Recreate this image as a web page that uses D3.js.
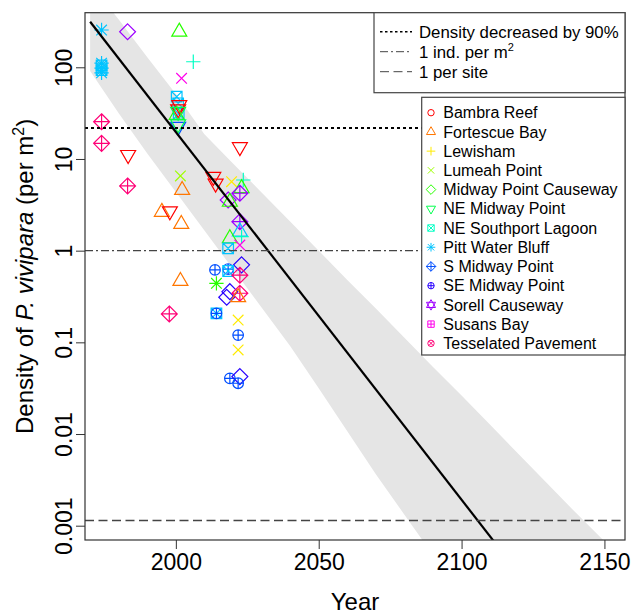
<!DOCTYPE html>
<html>
<head>
<meta charset="utf-8">
<script src="https://cdn.jsdelivr.net/npm/d3@7"></script>
<style>
body { margin: 0; background: #fff; }
svg { font-family: "Liberation Sans", Arial, sans-serif; }
</style>
</head>
<body>
<svg id="chart" width="634" height="614"></svg>
<script>
// legend sites, in order
var sites = ["Bambra Reef", "Fortescue Bay", "Lewisham", "Lumeah Point", "Midway Point Causeway",
    "NE Midway Point", "NE Southport Lagoon", "Pitt Water Bluff", "S Midway Point",
    "SE Midway Point", "Sorell Causeway", "Susans Bay", "Tesselated Pavement"]
var siteShapes = ["circle", "triangle", "plus", "cross", "diamond", "triangleDown", "squareX",
    "asterisk", "diamondPlus", "circlePlus", "star", "squarePlus", "circleX"]

// observations as plotted: year, density (per m2), marker
var obsYear = [1974, 1974, 1974, 1974, 1974, 1974, 1974, 1974,
    1983.1, 1983.3, 1983.1, 1995.1, 1997.9, 1997.7,
    2001.2, 2006.1, 2002.0, 2000.3, 2000.8, 2001.0, 2001.2, 2000.8, 2000.3, 2000.8, 2000.8, 2000.8,
    2001.6, 2002.2, 2001.9, 2001.6,
    2013.1, 2013.9, 2022.4,
    2019.5, 2023.6, 2023.0, 2022.4, 2018.3, 2018.9, 2022.4, 2022.4, 2018.9, 2023.0, 2022.4, 2018.3,
    2013.7, 2018.3, 2023.0, 2018.3, 2022.4, 2014.2, 2018.9, 2017.8, 2022.4, 2021.8,
    2014.2, 2014.2, 2021.8, 2021.8, 2021.8, 2018.9, 2022.4, 2021.8]
var obsDensity = [255, 111, 98, 87, 105, 93, 25.5, 14.8,
    244, 11.1, 5.08, 2.64, 2.7, 0.204,
    244, 115, 75.9, 47.8, 40.5, 31, 38.8, 35, 30.2, 22.5, 24, 32.8,
    6.53, 4.57, 1.95, 0.465,
    6.4, 5.4, 13.5,
    5.65, 5.9, 4.79, 4.23, 3.57, 3.4, 2.07, 1.61, 1.36, 1.42, 1.15, 1.06,
    0.617, 0.63, 0.70, 0.60, 0.54, 0.44, 0.357, 0.31, 0.343, 0.31,
    0.207, 0.207, 0.175, 0.12, 0.0826, 0.0405, 0.0423, 0.0358]
var obsMarker = ["astCyan", "astCyan", "astCyan", "astCyan", "sqCyan", "sqCyan", "dpPink", "dpPink",
    "diaPurple", "downRed", "dpPink", "triOrange", "downRed", "dpPink",
    "triGreen", "plusTeal", "xMagenta", "sqCyan", "sqCyan", "sqCyan", "downRed", "downRed", "triGreen", "downBlue", "downGreen", "downGreen",
    "xLime", "triOrange", "triOrange", "triOrange",
    "downRed", "downRed", "downRed",
    "xYellow", "plusTeal", "triGreen", "dpPurple", "diaPurple", "triGreen", "dpPurple", "triCyan", "triGreen", "plusTeal", "xMagenta", "sqCyan",
    "cpBlue", "cpBlue", "diaBlue", "sqCyan", "dpPink", "astGreen", "diaBlue", "diaBlue", "dpPink", "triOrange",
    "sqCyan", "cpBlue", "xYellow", "cpBlue", "xYellow", "cpBlue", "diaBlue", "cpBlue"]

// fitted trend and its band, log10 density
var trendYear = [1970, 2157]
var trendLog10 = [2.497, -5.003]
var bandYear = [1970, 1980, 1990, 2000, 2010, 2020, 2030, 2040, 2050, 2060, 2070, 2080, 2090, 2100, 2110, 2120, 2130, 2140, 2150, 2157]
var bandLower = [1.96, 1.50, 1.06, 0.64, 0.22, -0.20, -0.62, -1.04, -1.50, -1.97, -2.44, -2.88, -3.32, -3.76, -4.2, -4.64, -5.08, -5.52, -5.96, -6.27]
var bandUpper = [2.92, 2.52, 2.11, 1.71, 1.27, 0.95, 0.635, 0.318, 0.0, -0.32, -0.63, -0.95, -1.27, -1.58, -1.90, -2.22, -2.54, -2.86, -3.17, -3.39]

// reference lines
var refLabels = ["Density decreased by 90%", "1 ind. per m", "1 per site"]
var refValues = [21.8, 1, 0.00114]

var xTicks = [2000, 2050, 2100, 2150]
var yTicks = [0.001, 0.01, 0.1, 1, 10, 100]
var yTickLabels = ["0.001", "0.01", "0.1", "1", "10", "100"]

var colours = d3.range(13).map(function(i){ return d3.hsl(i / 13 * 360, 1, 0.5).formatHex() })

var markerStyle = {
    astCyan: ["asterisk", colours[7]], sqCyan: ["squareX", colours[7]], dpPink: ["diamondPlus", colours[12]],
    diaPurple: ["diamond", colours[10]], downRed: ["triangleDown", colours[0]], triOrange: ["triangle", colours[1]],
    triGreen: ["triangle", colours[4]], plusTeal: ["plus", colours[6]], xMagenta: ["cross", colours[11]],
    downBlue: ["triangleDown", colours[8]], downGreen: ["triangleDown", colours[5]], xLime: ["cross", colours[3]],
    xYellow: ["cross", colours[2]], dpPurple: ["diamondPlus", colours[10]], triCyan: ["triangle", colours[7]],
    cpBlue: ["circlePlus", colours[8]], diaBlue: ["diamond", colours[9]], astGreen: ["asterisk", colours[4]]
}

function shapePath(shape, xc)
{
    var p = d3.path()
    function circ(r){ p.moveTo(r, 0); p.arc(0, 0, r, 0, 2 * Math.PI) }
    function seg(x1, y1, x2, y2){ p.moveTo(x1, y1); p.lineTo(x2, y2) }
    function poly(pts){ p.moveTo(pts[0][0], pts[0][1]); for(var i=1; i<pts.length; i++) p.lineTo(pts[i][0], pts[i][1]); p.closePath() }
    var t = xc * 1.63, d = xc * 1.5, pl = xc * 1.35
    var up = [[0, -t], [t * 0.866, t / 2], [-t * 0.866, t / 2]]
    var down = [[0, t], [t * 0.866, -t / 2], [-t * 0.866, -t / 2]]
    if(shape == "circle") circ(xc)
    if(shape == "triangle") poly(up)
    if(shape == "triangleDown") poly(down)
    if(shape == "star"){ poly(up); poly(down) }
    if(shape == "plus"){ seg(-pl, 0, pl, 0); seg(0, -pl, 0, pl) }
    if(shape == "cross"){ seg(-xc, -xc, xc, xc); seg(-xc, xc, xc, -xc) }
    if(shape == "asterisk"){ seg(-pl, 0, pl, 0); seg(0, -pl, 0, pl); seg(-xc, -xc, xc, xc); seg(-xc, xc, xc, -xc) }
    if(shape == "diamond" || shape == "diamondPlus") poly([[0, -d], [d, 0], [0, d], [-d, 0]])
    if(shape == "diamondPlus"){ seg(-d, 0, d, 0); seg(0, -d, 0, d) }
    if(shape == "squareX" || shape == "squarePlus") poly([[-xc, -xc], [xc, -xc], [xc, xc], [-xc, xc]])
    if(shape == "squareX"){ seg(-xc, -xc, xc, xc); seg(-xc, xc, xc, -xc) }
    if(shape == "squarePlus"){ seg(-xc, 0, xc, 0); seg(0, -xc, 0, xc) }
    if(shape == "circlePlus"){ circ(xc); seg(-xc, 0, xc, 0); seg(0, -xc, 0, xc) }
    if(shape == "circleX"){ circ(xc); var k = xc * 0.707; seg(-k, -k, k, k); seg(-k, k, k, -k) }
    return p.toString()
}

var svg = d3.select("#chart")
var plotLeft = 85, plotRight = 625, plotTop = 12.7, plotBottom = 540

var x = d3.scaleLinear().domain([1968.2, 2157.2]).range([plotLeft, plotRight])
var y = d3.scaleLog().domain([Math.pow(10, -3.156), Math.pow(10, 2.5955)]).range([plotBottom, plotTop])

svg.append("clipPath").attr("id", "plotclip")
    .append("rect").attr("x", plotLeft).attr("y", plotTop).attr("width", plotRight - plotLeft).attr("height", plotBottom - plotTop)

var plot = svg.append("g").attr("clip-path", "url(#plotclip)")

// confidence band
var bandRows = bandYear.map(function(yr, i){ return {yr: yr, lo: bandLower[i], hi: bandUpper[i]} })
plot.append("path")
    .datum(bandRows)
    .attr("fill", "#e5e5e5")
    .attr("d", d3.area()
        .x(function(d){ return x(d.yr) })
        .y0(function(d){ return y(Math.pow(10, d.lo)) })
        .y1(function(d){ return y(Math.pow(10, d.hi)) }))

// observations
var obs = obsYear.map(function(yr, i){ return {yr: yr, dens: obsDensity[i], m: markerStyle[obsMarker[i]]} })
plot.selectAll("path.obs")
    .data(obs)
    .enter()
        .append("path")
        .attr("class", "obs")
        .attr("transform", function(d){ return "translate(" + x(d.yr) + "," + y(d.dens) + ")" })
        .attr("d", function(d){ return shapePath(d.m[0], 5.3) })
        .attr("fill", "none")
        .attr("stroke", function(d){ return d.m[1] })
        .attr("stroke-width", 1.2)

// trend line
plot.append("path")
    .datum(trendYear.map(function(yr, i){ return [yr, trendLog10[i]] }))
    .attr("fill", "none")
    .attr("stroke", "#000")
    .attr("stroke-width", 2.2)
    .attr("d", d3.line()
        .x(function(d){ return x(d[0]) })
        .y(function(d){ return y(Math.pow(10, d[1])) }))

// reference lines
var refStyles = [
    {stroke: "#000", width: 2, dash: "3,3"},
    {stroke: "#444", width: 1.3, dash: "8,3,2,3"},
    {stroke: "#444", width: 1.3, dash: "9,4.5"}
]
refValues.forEach(function(v, i){
    svg.append("line")
        .attr("x1", plotLeft).attr("x2", plotRight)
        .attr("y1", y(v)).attr("y2", y(v))
        .attr("stroke", refStyles[i].stroke)
        .attr("stroke-width", refStyles[i].width)
        .attr("stroke-dasharray", refStyles[i].dash)
})

// axes
var xAxis = svg.append("g")
    .attr("transform", "translate(0," + plotBottom + ")")
    .call(d3.axisBottom(x).tickValues(xTicks).tickSize(9).tickPadding(5).tickFormat(d3.format("d")))
xAxis.select(".domain").remove()
xAxis.selectAll("line").attr("stroke", "#333")
xAxis.selectAll("text").attr("font-size", 23).attr("fill", "#000").attr("font-family", "Liberation Sans, Arial, sans-serif")

var yAxis = svg.append("g")
    .attr("transform", "translate(" + plotLeft + ",0)")
    .call(d3.axisLeft(y).tickValues(yTicks).tickSize(9).tickFormat(function(d, i){ return yTickLabels[i] }))
yAxis.select(".domain").remove()
yAxis.selectAll("line").attr("stroke", "#333")
yAxis.selectAll("text")
    .attr("font-size", 23).attr("fill", "#000").attr("font-family", "Liberation Sans, Arial, sans-serif")
    .attr("transform", "rotate(-90)")
    .attr("x", 0).attr("y", -13).attr("dy", 0)
    .attr("text-anchor", "middle")

svg.append("rect")
    .attr("x", plotLeft).attr("y", plotTop).attr("width", plotRight - plotLeft).attr("height", plotBottom - plotTop)
    .attr("fill", "none").attr("stroke", "#333").attr("stroke-width", 1.2)

// axis titles
svg.append("text")
    .attr("x", (plotLeft + plotRight) / 2).attr("y", 610)
    .attr("text-anchor", "middle").attr("font-size", 24)
    .text("Year")

var ytitle = svg.append("text")
    .attr("transform", "translate(33," + ((plotTop + plotBottom) / 2) + ") rotate(-90)")
    .attr("text-anchor", "middle").attr("font-size", 24)
ytitle.append("tspan").text("Density of ")
ytitle.append("tspan").attr("font-style", "italic").text("P. vivipara")
ytitle.append("tspan").text(" (per m")
ytitle.append("tspan").attr("font-size", 16).attr("dy", -9).text("2")
ytitle.append("tspan").attr("dy", 9).text(")")

// legend for reference lines
var leg1 = svg.append("g")
leg1.append("rect")
    .attr("x", 374).attr("y", plotTop).attr("width", plotRight - 374).attr("height", 80)
    .attr("fill", "#fff").attr("stroke", "#444").attr("stroke-width", 1.2)
refLabels.forEach(function(lab, i){
    var ly = 31.7 + i * 20
    leg1.append("line")
        .attr("x1", 380).attr("x2", 412).attr("y1", ly).attr("y2", ly)
        .attr("stroke", refStyles[i].stroke)
        .attr("stroke-width", i == 0 ? 1.5 : 1)
        .attr("stroke-dasharray", i == 0 ? "2.5,2.5" : refStyles[i].dash)
    var t = leg1.append("text").attr("x", 419).attr("y", ly + 6).attr("font-size", 16.8).text(lab)
    if(i == 1) t.append("tspan").attr("font-size", 11).attr("dy", -7).text("2")
})

// legend for sites
var leg2 = svg.append("g")
leg2.append("rect")
    .attr("x", 421.7).attr("y", 97.3).attr("width", plotRight - 421.7).attr("height", 257.7)
    .attr("fill", "#fff").attr("stroke", "#444").attr("stroke-width", 1.2)
sites.forEach(function(s, i){
    var ly = 112.7 + i * 19.22
    leg2.append("path")
        .attr("transform", "translate(431," + ly + ")")
        .attr("d", shapePath(siteShapes[i], 3.2))
        .attr("fill", "none")
        .attr("stroke", colours[i])
        .attr("stroke-width", 1)
    leg2.append("text").attr("x", 443.3).attr("y", ly + 5.6).attr("font-size", 16).text(s)
})
</script>
</body>
</html>
